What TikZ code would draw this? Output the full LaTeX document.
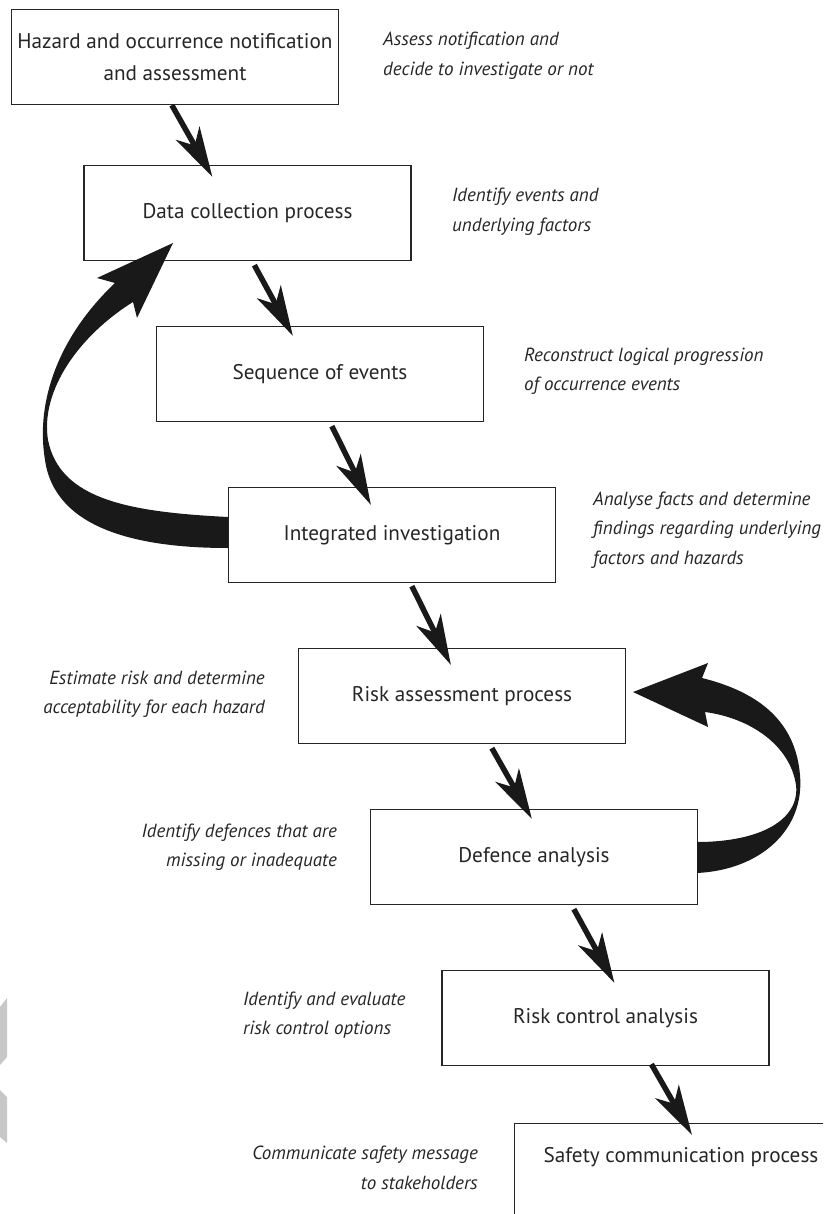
\documentclass[tikz,border=0pt]{standalone}
\usepackage{fontspec}
\setmainfont{PT Sans}
\usetikzlibrary{arrows.meta,calc}
\begin{document}
\begin{tikzpicture}[x=1pt,y=-1pt,
  box/.style={draw=black!85,line width=1.3pt,minimum width=327pt,minimum height=95pt,inner sep=0pt,font=\fontsize{21.2}{32}\selectfont,text=black!85,align=center},
  note/.style={inner sep=0pt,font=\fontsize{19}{29.5}\selectfont\itshape,text=black!85},
  flow/.style={line width=5.5pt,black!90,-{Stealth[length=50pt,width=27pt,inset=14pt]}},
  bigarrow/.style={fill=black!90,draw=none}]
\useasboundingbox (0,0) rectangle (823,1214);
\clip (0,0) rectangle (823,1214);
% boxes
\node[box] (b1) at (175,57) {Hazard and occurrence notification\\and assessment};
\node[box] (b2) at (247.5,213) {Data collection process};
\node[box] (b3) at (320,374) {Sequence of events};
\node[box] (b4) at (392,535) {Integrated investigation};
\node[box] (b5) at (462,696) {Risk assessment process};
\node[box] (b6) at (534,857) {Defence analysis};
\node[box] (b7) at (605.5,1018) {Risk control analysis};
\node[box,anchor=north west,minimum width=340pt,minimum height=130pt] (b8) at (514,1123) {};
\node[inner sep=0pt,font=\fontsize{21.2}{32}\selectfont,text=black!85] (t8) at (681,1157) {Safety communication process};
% notes
\node[note,anchor=west,align=left] (n1) at (383,56) {Assess notification and\\decide to investigate or not};
\node[note,anchor=west,align=left] (n2) at (452,212) {Identify events and\\underlying factors};
\node[note,anchor=west,align=left] (n3) at (524,371) {Reconstruct logical progression\\of occurrence events};
\node[note,anchor=west,align=left] (n4) at (593,530) {Analyse facts and determine\\findings regarding underlying\\factors and hazards};
\node[note,anchor=east,align=right] (n5) at (265,694) {Estimate risk and determine\\acceptability for each hazard};
\node[note,anchor=east,align=right] (n6) at (337,847) {Identify defences that are\\missing or inadequate};
\node[note,anchor=west,align=left] (n7) at (243,1015) {Identify and evaluate\\risk control options};
\node[note,anchor=east,align=right] (n8) at (478,1168) {Communicate safety message\\to stakeholders};
% straight arrows
\draw[flow] ($(b1.south west)+(161,0)$) -- ($(b2.north west)+(129,12)$);
\draw[flow] ($(b2.south west)+(171,4)$) -- ($(b3.north west)+(137,10)$);
\draw[flow] ($(b3.south west)+(176,4)$) -- ($(b4.north west)+(143,18)$);
\draw[flow] ($(b4.south west)+(184,3)$) -- ($(b5.north west)+(153,17)$);
\draw[flow] ($(b5.south west)+(194,4)$) -- ($(b6.north west)+(162,10)$);
\draw[flow] ($(b6.south west)+(204,4)$) -- ($(b7.north west)+(173,13)$);
\draw[flow] ($(b7.south west)+(210,-2)$) -- ($(b8.north west)+(178,12)$);
% curved feedback arrows
\fill[bigarrow] (228,517) .. controls (130,512) and (60,500) .. (48,440)
  .. controls (40,390) and (80,335) .. (133,302) -- (137,318) -- (173,243) -- (97,278) -- (115,283)
  .. controls (60,335) and (35,400) .. (45,460) .. controls (55,530) and (140,548) .. (228,548) -- cycle;
\fill[bigarrow] (697,873) .. controls (760,870) and (805,830) .. (800,775)
  .. controls (795,715) and (750,690) .. (702,678) -- (708,663) -- (633,692) -- (708,727) -- (705,712)
  .. controls (750,718) and (790,745) .. (796,785) .. controls (800,820) and (760,842) .. (697,842) -- cycle;
% grey marks at left edge
\fill[black!22] (0,1007) -- (7,998) -- (7,1057) -- (0,1065) -- cycle;
\fill[black!22] (0,1090) -- (7,1097) -- (7,1143) -- (0,1137) -- cycle;
\end{tikzpicture}
\end{document}
